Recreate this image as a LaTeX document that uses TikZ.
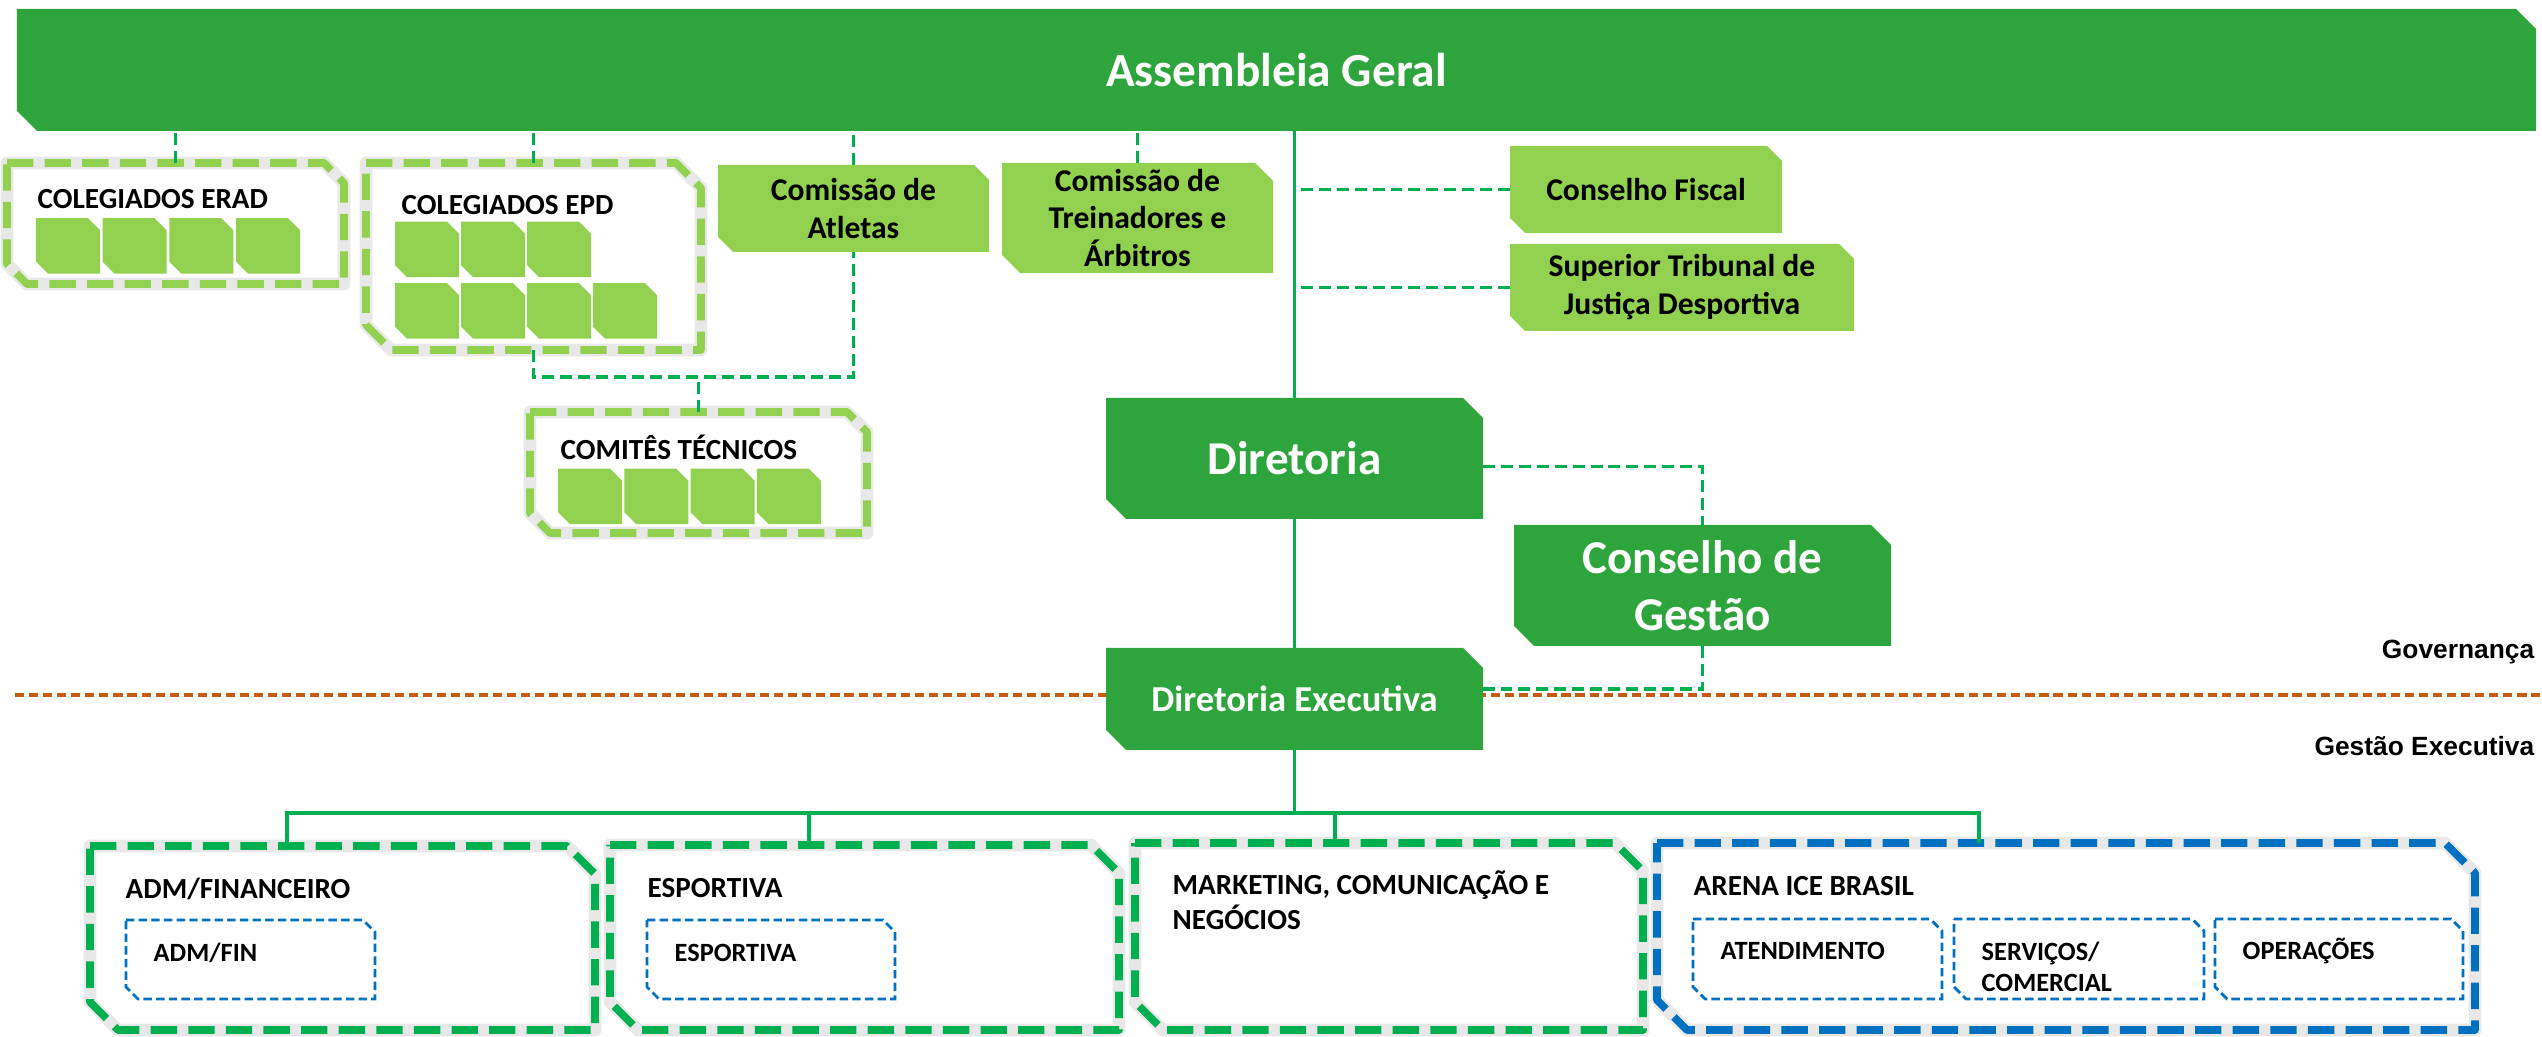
\documentclass[tikz,border=0pt]{standalone}
\usepackage{fontspec}
\setmainfont{Carlito}
\newfontfamily\arialfont{Liberation Sans}
\usetikzlibrary{positioning}

\definecolor{boxdark}{RGB}{45,165,60}
\definecolor{boxlight}{RGB}{146,208,80}
\definecolor{linegreen}{RGB}{0,176,80}
\definecolor{deptblue}{RGB}{0,112,192}
\definecolor{govorange}{RGB}{197,90,17}

\makeatletter
\newdimen\snip@len
\def\snipsize{0.2cm}
\pgfdeclareshape{snipbox}{%
  \inheritsavedanchors[from=rectangle]%
  \inheritanchorborder[from=rectangle]%
  \inheritanchor[from=rectangle]{center}%
  \inheritanchor[from=rectangle]{mid}%
  \inheritanchor[from=rectangle]{base}%
  \inheritanchor[from=rectangle]{north}%
  \inheritanchor[from=rectangle]{south}%
  \inheritanchor[from=rectangle]{east}%
  \inheritanchor[from=rectangle]{west}%
  \inheritanchor[from=rectangle]{north east}%
  \inheritanchor[from=rectangle]{north west}%
  \inheritanchor[from=rectangle]{south east}%
  \inheritanchor[from=rectangle]{south west}%
  \backgroundpath{%
    \pgfmathsetlength\snip@len{\snipsize}%
    \southwest \pgf@xa=\pgf@x \pgf@ya=\pgf@y
    \northeast \pgf@xb=\pgf@x \pgf@yb=\pgf@y
    \pgf@xc=\pgf@xb \advance\pgf@xc by -\snip@len
    \pgf@yc=\pgf@yb \advance\pgf@yc by -\snip@len
    \pgfpathmoveto{\pgfqpoint{\pgf@xa}{\pgf@yb}}%
    \pgfpathlineto{\pgfqpoint{\pgf@xc}{\pgf@yb}}%
    \pgfpathlineto{\pgfqpoint{\pgf@xb}{\pgf@yc}}%
    \pgfpathlineto{\pgfqpoint{\pgf@xb}{\pgf@ya}}%
    \pgf@xc=\pgf@xa \advance\pgf@xc by \snip@len
    \pgf@yc=\pgf@ya \advance\pgf@yc by \snip@len
    \pgfpathlineto{\pgfqpoint{\pgf@xc}{\pgf@ya}}%
    \pgfpathlineto{\pgfqpoint{\pgf@xa}{\pgf@yc}}%
    \pgfpathclose
  }%
}
\makeatother

\begin{document}
\begin{tikzpicture}[
    snip/.code={\def\snipsize{#1}},
    darkbox/.style={shape=snipbox, snip=0.2cm, fill=boxdark, text=white, inner sep=0pt, outer sep=0pt, align=center},
    bigtext/.style={font=\bfseries\fontsize{13.4}{16.2}\selectfont},
    lightbox/.style={shape=snipbox, snip=0.15cm, fill=boxlight, inner sep=0pt, outer sep=0pt, align=center, font=\bfseries\fontsize{9}{10.8}\selectfont},
    tile/.style={shape=snipbox, snip=0.12cm, fill=boxlight, minimum width=0.64cm, minimum height=0.555cm, inner sep=0pt, outer sep=0pt},
    groupbox/.style={shape=snipbox, snip=0.22cm, draw=#1, line width=2.2pt, dash pattern=on 7.5pt off 3.2pt, line join=round, inner sep=0pt, outer sep=0pt, preaction={draw=black!9, line width=3.6pt, solid}},
    subbox/.style={shape=snipbox, snip=0.12cm, draw=deptblue, line width=0.8pt, dash pattern=on 2.4pt off 1.2pt, inner sep=0pt, outer sep=0pt},
    grouplabel/.style={anchor=base west, inner sep=0pt, align=left, font=\bfseries\fontsize{8.3}{10}\selectfont},
    sublabel/.style={anchor=base west, inner sep=0pt, align=left, font=\bfseries\fontsize{7.5}{9.1}\selectfont},
    sidelabel/.style={anchor=base east, inner sep=0pt, font=\arialfont\bfseries\fontsize{7.5}{9}\selectfont},
    link/.style={draw=linegreen, line width=1pt},
    dashlink/.style={link, dash pattern=on 3.4pt off 1.7pt},
    govline/.style={draw=govorange, line width=1pt, dash pattern=on 2.6pt off 1.4pt}
  ]
    \useasboundingbox (0,0) rectangle (25.42,-10.37);

    \draw[govline] (0.15,-6.95) -- (25.40,-6.95);

    \node[darkbox, bigtext, minimum width=25.19cm, minimum height=1.22cm, font=\bfseries\fontsize{13.5}{16}\selectfont] (assembleia) at (12.765,-0.70) {Assembleia Geral};

    \node[groupbox=boxlight, minimum width=3.37cm, minimum height=1.21cm, snip=0.2cm]  (erad)    at (1.755,-2.235) {};
    \node[groupbox=boxlight, minimum width=3.35cm, minimum height=1.87cm, snip=0.25cm] (epd)     at (5.335,-2.565) {};
    \node[groupbox=boxlight, minimum width=3.37cm, minimum height=1.21cm, snip=0.2cm]  (comites) at (6.985,-4.725) {};

    \node[grouplabel] (eradlbl)    at ([shift={(0.30,-0.46)}]erad.north west)    {COLEGIADOS ERAD};
    \node[grouplabel] (epdlbl)     at ([shift={(0.35,-0.52)}]epd.north west)     {COLEGIADOS EPD};
    \node[grouplabel] (comiteslbl) at ([shift={(0.30,-0.48)}]comites.north west) {COMITÊS TÉCNICOS};

    \node[tile] (erad1) at (0.68,-2.46) {};
    \node[tile] (erad2) [right=0.027cm of erad1] {};
    \node[tile] (erad3) [right=0.027cm of erad2] {};
    \node[tile] (erad4) [right=0.027cm of erad3] {};

    \node[tile] (epd1) at (4.27,-2.495) {};
    \node[tile] (epd2) [right=0.02cm of epd1] {};
    \node[tile] (epd3) [right=0.02cm of epd2] {};
    \node[tile] (epd4) [below=0.06cm of epd1] {};
    \node[tile] (epd5) [right=0.02cm of epd4] {};
    \node[tile] (epd6) [right=0.02cm of epd5] {};
    \node[tile] (epd7) [right=0.02cm of epd6] {};

    \node[tile] (com1) at (5.90,-4.965) {};
    \node[tile] (com2) [right=0.023cm of com1] {};
    \node[tile] (com3) [right=0.023cm of com2] {};
    \node[tile] (com4) [right=0.023cm of com3] {};

    \node[lightbox, minimum width=2.71cm, minimum height=0.87cm]            (atletas)     at (8.535,-2.085) {Comissão de\\Atletas};
    \node[lightbox, minimum width=2.71cm, minimum height=1.10cm, snip=0.18cm] (treinadores) at (11.375,-2.18) {Comissão de\\Treinadores e\\Árbitros};
    \node[lightbox, minimum width=2.72cm, minimum height=0.87cm]            (fiscal)      at (16.46,-1.895) {Conselho Fiscal};
    \node[lightbox, minimum width=3.44cm, minimum height=0.87cm]            (stjd)        at (16.82,-2.875) {Superior Tribunal de\\Justiça Desportiva};

    \node[darkbox, bigtext, minimum width=3.77cm, minimum height=1.21cm] (dir)    at (12.945,-4.585) {Diretoria};
    \node[darkbox, bigtext, minimum width=3.77cm, minimum height=1.21cm] (gestao) at (17.025,-5.855) {Conselho de\\Gestão};
    \node[darkbox, minimum width=3.77cm, minimum height=1.02cm, font=\bfseries\fontsize{10.4}{12.5}\selectfont] (dirx) at (12.945,-6.99) {Diretoria Executiva};

    \node[sidelabel] (gov) at (25.35,-6.59) {Governança};
    \node[sidelabel] (gex) at (25.35,-7.56) {Gestão Executiva};

    \node[groupbox=linegreen, minimum width=5.05cm, minimum height=1.84cm, snip=0.28cm] (adm)   at (3.425,-9.38)  {};
    \node[groupbox=linegreen, minimum width=5.09cm, minimum height=1.85cm, snip=0.28cm] (esp)   at (8.645,-9.375) {};
    \node[groupbox=linegreen, minimum width=5.08cm, minimum height=1.87cm, snip=0.28cm] (mkt)   at (13.89,-9.365) {};
    \node[groupbox=deptblue,  minimum width=8.18cm, minimum height=1.87cm, snip=0.30cm] (arena) at (20.66,-9.365) {};

    \node[grouplabel] (admlbl)   at ([shift={(0.35,-0.52)}]adm.north west)   {ADM/FINANCEIRO};
    \node[grouplabel] (esplbl)   at ([shift={(0.37,-0.52)}]esp.north west)   {ESPORTIVA};
    \node[grouplabel] (mktlbl)   at ([shift={(0.37,-0.87)}]mkt.north west)   {MARKETING, COMUNICAÇÃO E\\NEGÓCIOS};
    \node[grouplabel] (arenalbl) at ([shift={(0.36,-0.52)}]arena.north west) {ARENA ICE BRASIL};

    \node[subbox, minimum width=2.49cm, minimum height=0.79cm] (admfin) at (2.505,-9.595) {};
    \node[subbox, minimum width=2.48cm, minimum height=0.79cm] (espin)  at (7.71,-9.595)  {};
    \node[subbox, minimum width=2.49cm, minimum height=0.80cm] (atend)  at (18.175,-9.59) {};
    \node[subbox, minimum width=2.50cm, minimum height=0.80cm] (serv)   [right=0.12cm of atend] {};
    \node[subbox, minimum width=2.48cm, minimum height=0.80cm] (oper)   [right=0.11cm of serv]  {};

    \node[sublabel] (admfinlbl) at ([shift={(0.27,-0.41)}]admfin.north west) {ADM/FIN};
    \node[sublabel] (espinlbl)  at ([shift={(0.27,-0.41)}]espin.north west)  {ESPORTIVA};
    \node[sublabel] (atendlbl)  at ([shift={(0.27,-0.41)}]atend.north west)  {ATENDIMENTO};
    \node[sublabel] (servlbl)   at ([shift={(0.27,-0.73)}]serv.north west)   {SERVIÇOS/\\COMERCIAL};
    \node[sublabel] (operlbl)   at ([shift={(0.27,-0.41)}]oper.north west)   {OPERAÇÕES};

    \draw[dashlink] (erad.north) -- (erad.north |- assembleia.south);
    \draw[dashlink] (epd.north) -- (epd.north |- assembleia.south);
    \draw[dashlink] (atletas.north) -- (atletas.north |- assembleia.south);
    \draw[dashlink] (treinadores.north) -- (treinadores.north |- assembleia.south);
    \draw[link]     (dir.north) -- (dir.north |- assembleia.south);
    \draw[dashlink] (fiscal.west) -- (fiscal.west -| dir.north);
    \draw[dashlink] (stjd.west) -- (stjd.west -| dir.north);
    \draw[link]     (dir.south) -- (dirx.north);
    \draw[dashlink] ([yshift=-0.08cm]dir.east) -| (gestao.north);
    \draw[dashlink] (gestao.south) |- ([yshift=0.1cm]dirx.east);

    \coordinate (epdjoin) at ([yshift=-0.27cm]epd.south);
    \draw[dashlink] (epd.south) -- (epdjoin) -| (atletas.south);
    \draw[dashlink] (comites.north) -- (comites.north |- epdjoin);

    \coordinate (bus)       at ([yshift=-0.63cm]dirx.south);
    \coordinate (admdrop)   at ([xshift=1.97cm]adm.north west);
    \coordinate (espdrop)   at ([xshift=1.99cm]esp.north west);
    \coordinate (mktdrop)   at ([xshift=2.00cm]mkt.north west);
    \coordinate (arenadrop) at ([xshift=3.22cm]arena.north west);
    \draw[link] (dirx.south) -- (bus);
    \draw[link] (admdrop) |- (bus) -| (arenadrop);
    \draw[link] (espdrop) -- (espdrop |- bus);
    \draw[link] (mktdrop) -- (mktdrop |- bus);
\end{tikzpicture}
\end{document}
